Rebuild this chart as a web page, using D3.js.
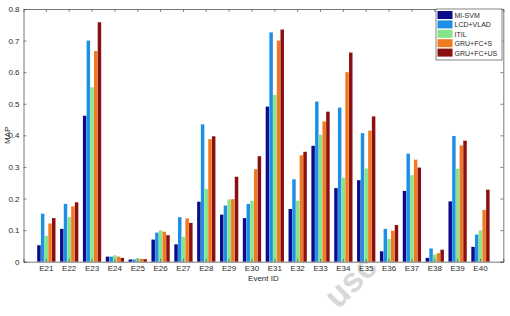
<!DOCTYPE html>
<html>
<head>
<meta charset="utf-8">
<script src="https://cdn.jsdelivr.net/npm/d3@7"></script>
<style>
  body { margin: 0; background: #fff; }
  svg { display: block; font-family: "Liberation Sans", Arial, sans-serif; }
</style>
</head>
<body>
<div id="chart"></div>
<script>
const events = ["E21", "E22", "E23", "E24", "E25", "E26", "E27", "E28", "E29", "E30",
  "E31", "E32", "E33", "E34", "E35", "E36", "E37", "E38", "E39", "E40"];
const methods = ["MI-SVM", "LCD+VLAD", "ITIL", "GRU+FC+S", "GRU+FC+US"];
const colors = ["#0c0c8a", "#1e8fe6", "#88e488", "#f07a22", "#8a0f0f"];

const miSvm = [0.052, 0.104, 0.462, 0.016, 0.007, 0.070, 0.055, 0.190, 0.149, 0.138,
  0.491, 0.167, 0.367, 0.233, 0.258, 0.033, 0.224, 0.012, 0.191, 0.047];
const lcdVlad = [0.152, 0.183, 0.700, 0.016, 0.007, 0.092, 0.141, 0.435, 0.178, 0.183,
  0.726, 0.261, 0.507, 0.488, 0.407, 0.104, 0.342, 0.042, 0.398, 0.086];
const itil = [0.082, 0.141, 0.552, 0.020, 0.011, 0.099, 0.079, 0.230, 0.197, 0.193,
  0.528, 0.193, 0.402, 0.266, 0.295, 0.072, 0.274, 0.023, 0.294, 0.099];
const gruS = [0.121, 0.175, 0.667, 0.016, 0.009, 0.095, 0.137, 0.388, 0.198, 0.293,
  0.700, 0.337, 0.444, 0.600, 0.415, 0.098, 0.323, 0.027, 0.368, 0.164];
const gruUs = [0.138, 0.188, 0.758, 0.012, 0.008, 0.084, 0.123, 0.397, 0.269, 0.334,
  0.735, 0.348, 0.475, 0.662, 0.460, 0.116, 0.298, 0.038, 0.383, 0.228];
const series = [miSvm, lcdVlad, itil, gruS, gruUs];
const yTicks = [0, 0.1, 0.2, 0.3, 0.4, 0.5, 0.6, 0.7, 0.8];

const width = 510;
const height = 316;
const margin = { left: 23.5, right: 6.7, top: 9, bottom: 54.3 };
const plotW = width - margin.left - margin.right;
const plotH = height - margin.top - margin.bottom;

const svg = d3.select("#chart").append("svg")
  .attr("width", width)
  .attr("height", height);

// faint watermark remnant, drawn first so it sits behind everything
svg.append("text")
  .attr("transform", "translate(338,310) rotate(-45)")
  .attr("font-size", 34)
  .attr("font-weight", "bold")
  .attr("fill", "#d8d8d8")
  .text("usc");

const g = svg.append("g")
  .attr("transform", "translate(" + margin.left + "," + margin.top + ")");

const x = d3.scaleBand().domain(events).range([0, plotW]).paddingInner(0).paddingOuter(0.5);
const xSub = d3.scaleBand().domain(d3.range(methods.length))
  .range([0, x.bandwidth() * 0.8]).paddingInner(0.06);
const y = d3.scaleLinear().domain([0, 0.8]).range([plotH, 0]);

// bars
series.forEach(function (vals, si) {
  g.append("g")
    .selectAll("rect")
    .data(vals)
    .enter()
    .append("rect")
    .attr("x", function (d, i) { return x(events[i]) + x.bandwidth() * 0.1 + xSub(si); })
    .attr("width", xSub.bandwidth())
    .attr("y", function (d) { return y(d); })
    .attr("height", function (d) { return plotH - y(d); })
    .attr("fill", colors[si]);
});

// axes, MATLAB style box with inward ticks
const tickColor = "#555";
const textColor = "#2a2a2a";

const xAxis = g.append("g").attr("transform", "translate(0," + plotH + ")")
  .call(d3.axisBottom(x).tickSize(-3).tickPadding(4));
const xTop = g.append("g").call(d3.axisTop(x).tickSize(-3).tickFormat(""));
const yAxis = g.append("g").call(d3.axisLeft(y).tickValues(yTicks).tickSize(-3).tickPadding(4)
  .tickFormat(function (d) { return d === 0 ? "0" : d3.format(".1f")(d); }));
const yRight = g.append("g").attr("transform", "translate(" + plotW + ",0)")
  .call(d3.axisRight(y).tickValues(yTicks).tickSize(-3).tickFormat(""));

[xAxis, xTop, yAxis, yRight].forEach(function (a) {
  a.select(".domain").attr("stroke", tickColor).attr("stroke-width", 0.8);
  a.selectAll(".tick line").attr("stroke", tickColor).attr("stroke-width", 0.7);
  a.selectAll("text").attr("fill", textColor).attr("font-size", 8).attr("font-family", "Liberation Sans, Arial, sans-serif");
});

// axis labels
svg.append("text")
  .attr("x", margin.left + plotW / 2)
  .attr("y", 281)
  .attr("text-anchor", "middle")
  .attr("font-size", 8)
  .attr("fill", textColor)
  .text("Event ID");

svg.append("text")
  .attr("transform", "translate(10," + (margin.top + plotH / 2) + ") rotate(-90)")
  .attr("text-anchor", "middle")
  .attr("font-size", 8)
  .attr("fill", textColor)
  .text("MAP");

// legend
const legend = svg.append("g").attr("transform", "translate(436,9)");
legend.append("rect")
  .attr("width", 66)
  .attr("height", 51)
  .attr("fill", "#fff")
  .attr("stroke", "#666")
  .attr("stroke-width", 0.8);

methods.forEach(function (m, i) {
  const row = legend.append("g").attr("transform", "translate(1.5," + (2 + i * 9.4) + ")");
  row.append("rect")
    .attr("width", 15)
    .attr("height", 8)
    .attr("fill", colors[i]);
  row.append("text")
    .attr("x", 17)
    .attr("y", 7)
    .attr("font-size", 7)
    .attr("fill", textColor)
    .text(m);
});
</script>
</body>
</html>
